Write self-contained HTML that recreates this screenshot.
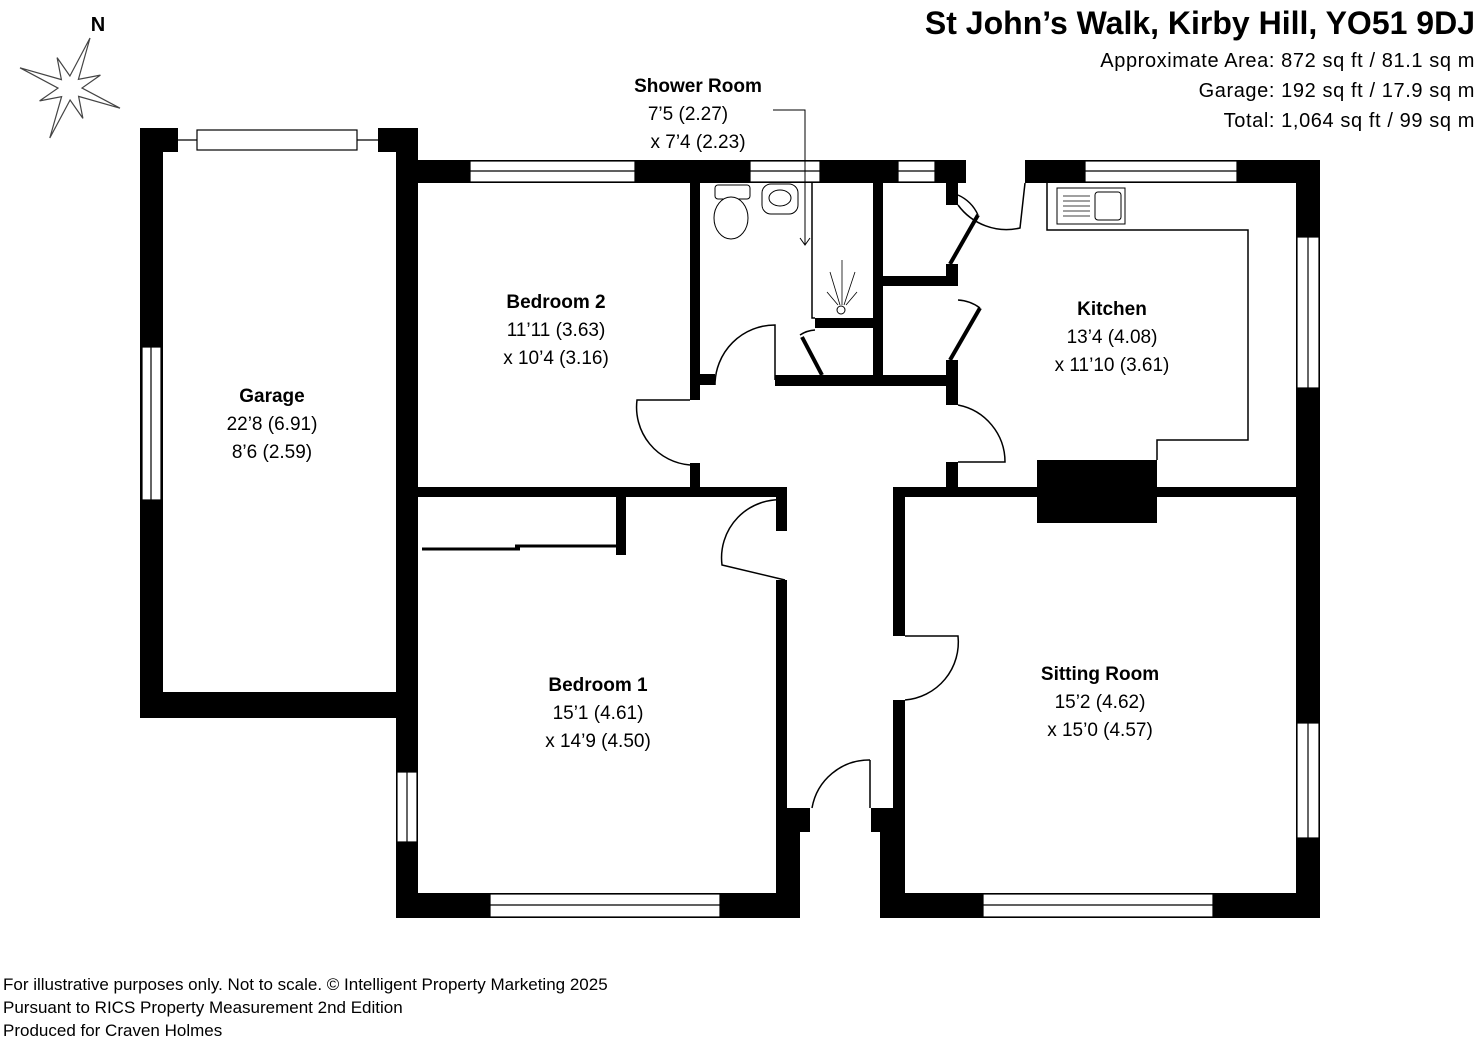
<!DOCTYPE html>
<html><head><meta charset="utf-8"><style>
body{margin:0;background:#fff;width:1480px;height:1040px;overflow:hidden;font-family:"Liberation Sans",sans-serif}
</style></head><body>
<svg width="1480" height="1040" xmlns="http://www.w3.org/2000/svg" font-family="Liberation Sans, sans-serif">
<rect width="1480" height="1040" fill="#fff"/>
<!-- compass -->
<text x="98" y="31" font-size="20" font-weight="bold" text-anchor="middle">N</text>
<polygon points="90,38 78.4,79.4 100.4,75.1 82,88 120,108.2 78.6,96.4 82.9,118.4 70.1,100 49.8,138 61.6,96.6 39.6,100.9 58,88.1 20,67.8 61.4,79.6 57.1,57.6 69.9,76" fill="#fff" stroke="#444" stroke-width="1.2"/>
<!-- title -->
<text x="1475" y="34" font-size="32" font-weight="bold" text-anchor="end">St John’s Walk, Kirby Hill, YO51 9DJ</text>
<g font-size="20" text-anchor="end" letter-spacing="0.6">
<text x="1475" y="67">Approximate Area: 872 sq ft / 81.1 sq m</text>
<text x="1475" y="97">Garage: 192 sq ft / 17.9 sq m</text>
<text x="1475" y="127">Total: 1,064 sq ft /  99 sq m</text>
</g>
<g fill="#000">
<!-- garage -->
<rect x="140" y="128" width="23" height="590"/>
<rect x="140" y="128" width="38" height="24"/>
<rect x="378" y="128" width="40" height="24"/>
<rect x="140" y="692" width="278" height="26"/>
<rect x="396" y="128" width="22" height="790"/>
<!-- top wall -->
<rect x="396" y="160" width="570" height="23"/>
<rect x="1025" y="160" width="295" height="23"/>
<rect x="1296" y="160" width="24" height="758"/>
<!-- bedroom2 -->
<rect x="690" y="183" width="10" height="217"/>
<rect x="700" y="374" width="15" height="11"/>
<rect x="690" y="463" width="10" height="27"/>
<rect x="418" y="487" width="367" height="10"/>
<rect x="616" y="497" width="10" height="58"/>
<rect x="776" y="487" width="11" height="44"/>
<rect x="776" y="580" width="11" height="228"/>
<rect x="776" y="808" width="34" height="24"/>
<rect x="776" y="832" width="24" height="86"/>
<rect x="396" y="893" width="404" height="25"/>
<!-- shower -->
<rect x="775" y="375" width="183" height="11"/>
<rect x="873" y="183" width="10" height="197"/>
<rect x="815" y="318" width="60" height="10"/>
<rect x="883" y="276" width="65" height="10"/>
<rect x="946" y="160" width="12" height="45"/>
<rect x="946" y="264" width="12" height="22"/>
<rect x="946" y="360" width="12" height="45"/>
<rect x="946" y="462" width="12" height="28"/>
<!-- sitting -->
<rect x="893" y="487" width="427" height="10"/>
<rect x="1037" y="460" width="120" height="63"/>
<rect x="893" y="487" width="12" height="149"/>
<rect x="893" y="700" width="12" height="108"/>
<rect x="871" y="808" width="34" height="24"/>
<rect x="880" y="832" width="25" height="86"/>
<rect x="880" y="893" width="440" height="25"/>
</g>
<!-- wardrobe sliding doors -->
<g stroke="#000" stroke-width="3"><line x1="422" y1="549" x2="520" y2="549"/><line x1="515" y1="546" x2="616" y2="546"/></g>
<!-- windows -->
<g fill="#fff" stroke="#000" stroke-width="1.2">
<rect x="197" y="130" width="160" height="20"/>
<line x1="178" y1="140" x2="197" y2="140"/><line x1="357" y1="140" x2="378" y2="140"/>
<rect x="142" y="347" width="19" height="153"/><line x1="151" y1="347" x2="151" y2="500"/>
<rect x="470" y="161" width="165" height="21"/><line x1="470" y1="171" x2="635" y2="171"/>
<rect x="750" y="161" width="70" height="21"/><line x1="750" y1="171" x2="820" y2="171"/>
<rect x="898" y="161" width="37" height="21"/><line x1="898" y1="171" x2="935" y2="171"/>
<rect x="1085" y="161" width="152" height="21"/><line x1="1085" y1="171" x2="1237" y2="171"/>
<rect x="1297" y="237" width="22" height="151"/><line x1="1308" y1="237" x2="1308" y2="388"/>
<rect x="1297" y="723" width="22" height="115"/><line x1="1308" y1="723" x2="1308" y2="838"/>
<rect x="397" y="772" width="20" height="70"/><line x1="407" y1="772" x2="407" y2="842"/>
<rect x="490" y="894" width="230" height="23"/><line x1="490" y1="905" x2="720" y2="905"/>
<rect x="983" y="894" width="230" height="23"/><line x1="983" y1="905" x2="1213" y2="905"/>
</g>
<!-- doors -->
<g fill="none" stroke="#000" stroke-width="1.5">
<path d="M715,385 A60,60 0 0 1 775,325 L775,380"/>
<path d="M690,400 L637,400 A58,58 0 0 0 690,465"/>
<path d="M785,500 A58,58 0 0 0 722,565 L785,580"/>
<path d="M905,636 L958,636 A58,58 0 0 1 905,700"/>
<path d="M870,760 L870,808 M870,760 A58,58 0 0 0 812,808"/>
<path d="M958,405 A58,58 0 0 1 1005,462 L958,462"/>
<path d="M958,205 A60,60 0 0 0 1020,228 L1025,183"/>
<path d="M958,300 A40,40 0 0 1 980,308"/>
<path d="M958,195 A40,40 0 0 1 978,215"/>
<path d="M800,335 A30,30 0 0 1 815,330"/>
<polyline points="1047,183 1047,230 1248,230 1248,440 1157,440 1157,460"/>
<polyline points="812,183 812,318 815,318"/>
<path d="M773,110 L805,110 L805,245 M800,238 L805,245 L810,238" stroke-width="1"/>
</g>
<g stroke="#000" stroke-width="4">
<line x1="978" y1="215" x2="950" y2="264"/>
<line x1="980" y1="308" x2="950" y2="360"/>
<line x1="802" y1="337" x2="822" y2="375"/>
</g>
<!-- fixtures -->
<g fill="#fff" stroke="#000" stroke-width="1">
<rect x="715" y="185" width="35" height="14" rx="3"/>
<ellipse cx="731" cy="218" rx="17" ry="21"/>
<rect x="762" y="184" width="36" height="30" rx="9"/>
<ellipse cx="780" cy="198" rx="11" ry="8"/>
<rect x="1057" y="188" width="68" height="36"/>
<rect x="1095" y="192" width="26" height="28" rx="3"/>
<circle cx="841" cy="310" r="4"/>
</g>
<g stroke="#000" stroke-width="0.8">
<line x1="1063" y1="196" x2="1090" y2="196"/><line x1="1063" y1="201" x2="1090" y2="201"/><line x1="1063" y1="206" x2="1090" y2="206"/><line x1="1063" y1="211" x2="1090" y2="211"/><line x1="1063" y1="216" x2="1090" y2="216"/>
<line x1="842" y1="305" x2="842" y2="260"/><line x1="840" y1="305" x2="830" y2="272"/><line x1="844" y1="305" x2="855" y2="272"/><line x1="838" y1="305" x2="827" y2="292"/><line x1="846" y1="305" x2="857" y2="292"/>
</g>
<!-- labels -->
<g font-size="19" text-anchor="middle">
<text x="698" y="92" font-weight="bold">Shower Room</text>
<text x="688" y="120">7’5 (2.27)</text>
<text x="698" y="148">x 7’4 (2.23)</text>
<text x="556" y="308" font-weight="bold">Bedroom 2</text>
<text x="556" y="336">11’11 (3.63)</text>
<text x="556" y="364">x 10’4 (3.16)</text>
<text x="272" y="402" font-weight="bold">Garage</text>
<text x="272" y="430">22’8 (6.91)</text>
<text x="272" y="458">8’6 (2.59)</text>
<text x="1112" y="315" font-weight="bold">Kitchen</text>
<text x="1112" y="343">13’4 (4.08)</text>
<text x="1112" y="371">x 11’10 (3.61)</text>
<text x="598" y="691" font-weight="bold">Bedroom 1</text>
<text x="598" y="719">15’1 (4.61)</text>
<text x="598" y="747">x 14’9 (4.50)</text>
<text x="1100" y="680" font-weight="bold">Sitting Room</text>
<text x="1100" y="708">15’2 (4.62)</text>
<text x="1100" y="736">x 15’0 (4.57)</text>
</g>
<g font-size="17">
<text x="3" y="990">For illustrative purposes only. Not to scale. © Intelligent Property Marketing 2025</text>
<text x="3" y="1013">Pursuant to RICS Property Measurement 2nd Edition</text>
<text x="3" y="1036">Produced for Craven Holmes</text>
</g>
</svg>
</body></html>
